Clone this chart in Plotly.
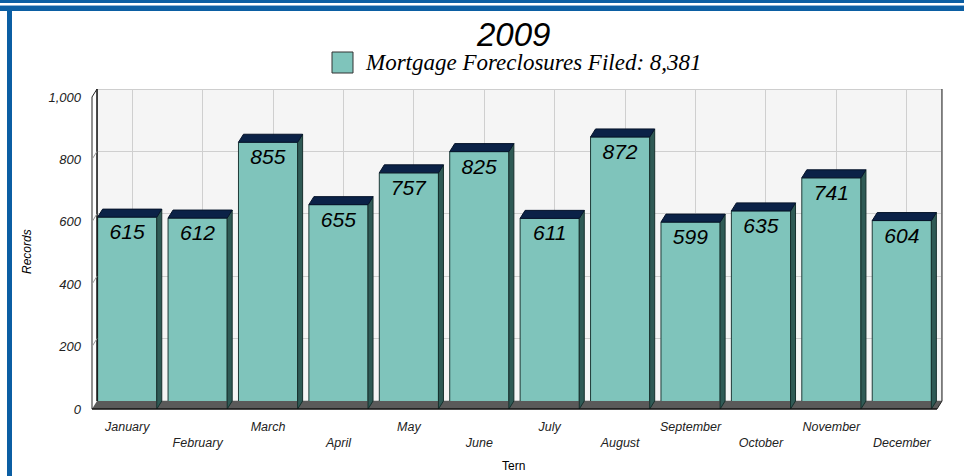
import plotly.graph_objects as go

# ---- data ----
months = ["January", "February", "March", "April", "May", "June",
          "July", "August", "September", "October", "November", "December"]
records = [615, 612, 855, 655, 757, 825, 611, 872, 599, 635, 741, 604]
y_ticks = [0, 200, 400, 600, 800, 1000]
title_text = "2009"
series_name = "Mortgage Foreclosures Filed: 8,381"
x_title = "Tern"
y_title = "Records"

# ---- geometry ----
W, H = 964, 476
L, R, T, B = 92, 942, 89, 409
PW, PH = R - L, B - T
DX, DY = 5, 8                      # 3D depth in px
CAT_PX = (PW - DX) / len(months)
UNIT_PX = (PH - DY) / 1000.0
dxc = DX / CAT_PX
dyv = DY / UNIT_PX
bw = 0.84

TEAL = "#7fc4bb"
NAVY = "#0b2247"
SIDE = "#2f5a55"
BLUE = "#0b5ea3"


def px(x):
    return (x - L) / PW


def py(y):
    return (B - y) / PH


idx = list(range(len(months)))

fig = go.Figure()

# floor
fig.add_trace(go.Scatter(
    x=[-0.5, len(months) - 0.5, len(months) - 0.5 + dxc, -0.5 + dxc, -0.5],
    y=[0, 0, dyv, dyv, 0], fill="toself", fillcolor="#5a5a5a", mode="lines",
    line=dict(width=0), xaxis="x2", yaxis="y2", hoverinfo="skip", showlegend=False))

# bar fronts
fig.add_trace(go.Bar(
    x=idx, y=records, width=bw, name=series_name,
    marker=dict(color=TEAL, line=dict(color="#1e3a37", width=1)),
    text=[f"{v:,}" for v in records], textposition="inside", insidetextanchor="end",
    textangle=0, constraintext="none",
    textfont=dict(family="Arial", size=21, style="italic", color="black"),
    xaxis="x2", yaxis="y2", showlegend=False))

# bar sides and tops
sx, sy, tx, ty = [], [], [], []
for i, v in zip(idx, records):
    r = i + bw / 2
    l = i - bw / 2
    sx += [r, r + dxc, r + dxc, r, r, None]
    sy += [0, dyv, v + dyv, v, 0, None]
    tx += [l, r, r + dxc, l + dxc, l, None]
    ty += [v, v, v + dyv, v + dyv, v, None]
fig.add_trace(go.Scatter(x=sx, y=sy, fill="toself", fillcolor=SIDE, mode="lines",
                         line=dict(color="#17302d", width=1), xaxis="x2", yaxis="y2",
                         hoverinfo="skip", showlegend=False))
fig.add_trace(go.Scatter(x=tx, y=ty, fill="toself", fillcolor=NAVY, mode="lines",
                         line=dict(color="#06142b", width=1), xaxis="x2", yaxis="y2",
                         hoverinfo="skip", showlegend=False))

shapes = []
# back wall (on the back-wall axes, below their gridlines)
shapes.append(dict(type="rect", xref="x", yref="y", x0=-0.5, x1=len(months) - 0.5,
                   y0=0, y1=1000, fillcolor="#f5f5f5",
                   line=dict(color="#a8a8a8", width=1), layer="below"))
line_k = dict(color="#222222", width=1)
shapes += [
    dict(type="line", xref="paper", yref="paper", x0=px(R), x1=px(R), y0=py(T), y1=py(B - DY), line=line_k),
    dict(type="line", xref="paper", yref="paper", x0=px(L + DX), x1=px(L + DX), y0=py(T), y1=py(B - DY), line=dict(color="#111", width=1.5)),
    dict(type="line", xref="paper", yref="paper", x0=px(L), x1=px(L), y0=py(T + DY), y1=py(B), line=line_k),
    dict(type="line", xref="paper", yref="paper", x0=px(L), x1=px(L + DX), y0=py(T + DY), y1=py(T), line=line_k),
    dict(type="line", xref="paper", yref="paper", x0=px(L), x1=px(R - DX), y0=py(B), y1=py(B), line=dict(color="#111", width=1.5)),
    dict(type="line", xref="paper", yref="paper", x0=px(R - DX), x1=px(R), y0=py(B), y1=py(B - DY), line=line_k),
]
for v in y_ticks[1:-1]:
    shapes.append(dict(type="line", xref="paper", yref="y2", x0=px(L), x1=px(L + DX),
                       y0=v, y1=v + dyv, line=dict(color="#999999", width=1)))
# frame
shapes += [
    dict(type="rect", xref="paper", yref="paper", x0=px(0), x1=px(W), y0=py(0), y1=py(3),
         fillcolor=BLUE, line=dict(width=0)),
    dict(type="rect", xref="paper", yref="paper", x0=px(0), x1=px(W), y0=py(5), y1=py(6),
         fillcolor="#8fb6d8", line=dict(width=0)),
    dict(type="rect", xref="paper", yref="paper", x0=px(0), x1=px(W), y0=py(6), y1=py(11),
         fillcolor=BLUE, line=dict(width=0)),
    dict(type="rect", xref="paper", yref="paper", x0=px(7), x1=px(12), y0=py(11), y1=py(H),
         fillcolor=BLUE, line=dict(width=0)),
]
# legend swatch
shapes.append(dict(type="rect", xref="paper", yref="paper", x0=px(332), x1=px(353),
                   y0=py(52), y1=py(73), fillcolor=TEAL, line=dict(color="#333", width=1)))

annotations = [
    dict(text=title_text, xref="paper", yref="paper", x=px(513), y=py(34), showarrow=False,
         xanchor="center", yanchor="middle",
         font=dict(family="Arial", size=33, style="italic", color="black")),
    dict(text=series_name, xref="paper", yref="paper", x=px(363), y=py(63), showarrow=False,
         xanchor="left", yanchor="middle",
         font=dict(family="Liberation Serif", size=23, style="italic", color="black")),
    dict(text=y_title, xref="paper", yref="paper", x=px(27), y=py(252), showarrow=False,
         textangle=-90, xanchor="center", yanchor="middle",
         font=dict(family="Arial", size=12, style="italic", color="black")),
    dict(text=x_title, xref="paper", yref="paper", x=px(513), y=py(466), showarrow=False,
         xanchor="center", yanchor="middle",
         font=dict(family="Arial", size=12, color="black")),
]

ticktext = [m if i % 2 == 0 else "<br>" + m for i, m in enumerate(months)]

fig.update_layout(
    width=W, height=H,
    margin=dict(l=L, r=W - R, t=T, b=H - B, pad=0),
    paper_bgcolor="white", plot_bgcolor="rgba(0,0,0,0)",
    shapes=shapes, annotations=annotations, showlegend=False,
    xaxis=dict(domain=[DX / PW, 1], range=[-0.5, len(months) - 0.5], tickvals=idx,
               showgrid=True, gridcolor="#cfcfcf", gridwidth=1, showticklabels=False,
               zeroline=False, showline=False, ticks="", anchor="y"),
    yaxis=dict(domain=[DY / PH, 1], range=[0, 1000], tickvals=y_ticks,
               showgrid=True, gridcolor="#cfcfcf", gridwidth=1, showticklabels=False,
               zeroline=False, showline=False, ticks="", anchor="x"),
    xaxis2=dict(domain=[0, 1], range=[-0.5, -0.5 + PW / CAT_PX], tickvals=idx,
                ticktext=ticktext, showgrid=False, zeroline=False, showline=False,
                ticks="", anchor="y2", ticklabelstandoff=8,
                tickfont=dict(family="Arial", size=12.5, style="italic", color="#222")),
    yaxis2=dict(domain=[0, 1], range=[0, PH / UNIT_PX], tickvals=y_ticks, tickformat=",",
                showgrid=False, zeroline=False, showline=False, ticks="", anchor="x2",
                ticklabelstandoff=10,
                tickfont=dict(family="Arial", size=13, style="italic", color="#222")),
)

fig.write_html("out.html", config={"displayModeBar": False},
               post_script="document.body.style.margin='0';document.body.style.overflow='hidden';")
